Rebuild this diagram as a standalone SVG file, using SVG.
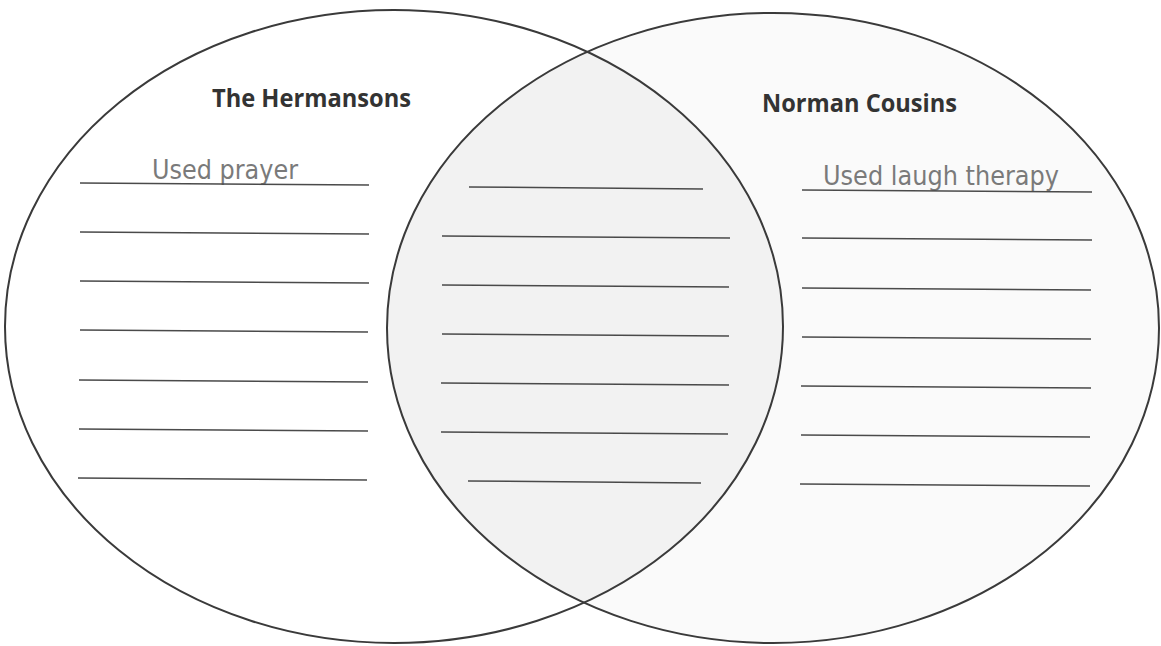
<svg xmlns="http://www.w3.org/2000/svg" width="1161" height="646" viewBox="0 0 1161 646">
<style>
.ell{fill:none;stroke:#3a3a3a;stroke-width:2}
.ln{stroke:#4a4a4a;stroke-width:1.5}
.title{font-family:"Open Sans","Liberation Sans",sans-serif;font-weight:bold;font-size:25px;fill:#333}
.hand{font-family:"DejaVu Sans","Liberation Sans",sans-serif;font-size:26px;fill:#7a7a7a}
</style>
<defs>
<clipPath id="clipL"><ellipse cx="394" cy="326.5" rx="389" ry="316.5"/></clipPath>
</defs>
<rect width="1161" height="646" fill="#ffffff"/>
<g id="right-fill"><ellipse cx="773" cy="328" rx="386" ry="315" fill="#fafafa"/></g>
<g id="intersection-fill" clip-path="url(#clipL)"><ellipse cx="773" cy="328" rx="386" ry="315" fill="#f2f2f2"/></g>
<g id="left-set">
<ellipse class="ell" cx="394" cy="326.5" rx="389" ry="316.5"/>
<text class="title" x="212" y="107" textLength="199" lengthAdjust="spacingAndGlyphs">The Hermansons</text>
<text class="hand" x="152" y="179" textLength="146" lengthAdjust="spacingAndGlyphs">Used prayer</text>
<g>
<line class="ln" x1="80" y1="183" x2="369" y2="185"/>
<line class="ln" x1="80" y1="232" x2="369" y2="234"/>
<line class="ln" x1="80" y1="281" x2="369" y2="283"/>
<line class="ln" x1="80" y1="330" x2="368" y2="332"/>
<line class="ln" x1="79" y1="380" x2="368" y2="382"/>
<line class="ln" x1="79" y1="429" x2="368" y2="431"/>
<line class="ln" x1="78" y1="478" x2="367" y2="480"/>
</g>
</g>
<g id="right-set">
<ellipse class="ell" cx="773" cy="328" rx="386" ry="315"/>
<text class="title" x="762" y="112" textLength="195" lengthAdjust="spacingAndGlyphs">Norman Cousins</text>
<text class="hand" x="823" y="185" textLength="236" lengthAdjust="spacingAndGlyphs">Used laugh therapy</text>
<g>
<line class="ln" x1="802" y1="190" x2="1092" y2="192"/>
<line class="ln" x1="802" y1="238" x2="1092" y2="240"/>
<line class="ln" x1="802" y1="288" x2="1091" y2="290"/>
<line class="ln" x1="802" y1="337" x2="1091" y2="339"/>
<line class="ln" x1="801" y1="386" x2="1091" y2="388"/>
<line class="ln" x1="801" y1="435" x2="1090" y2="437"/>
<line class="ln" x1="800" y1="484" x2="1090" y2="486"/>
</g>
</g>
<g id="both-set">
<line class="ln" x1="469" y1="187" x2="703" y2="189"/>
<line class="ln" x1="442" y1="236" x2="730" y2="238"/>
<line class="ln" x1="442" y1="285" x2="729" y2="287"/>
<line class="ln" x1="442" y1="334" x2="729" y2="336"/>
<line class="ln" x1="441" y1="383" x2="729" y2="385"/>
<line class="ln" x1="441" y1="432" x2="728" y2="434"/>
<line class="ln" x1="468" y1="481" x2="701" y2="483"/>
</g>
</svg>
